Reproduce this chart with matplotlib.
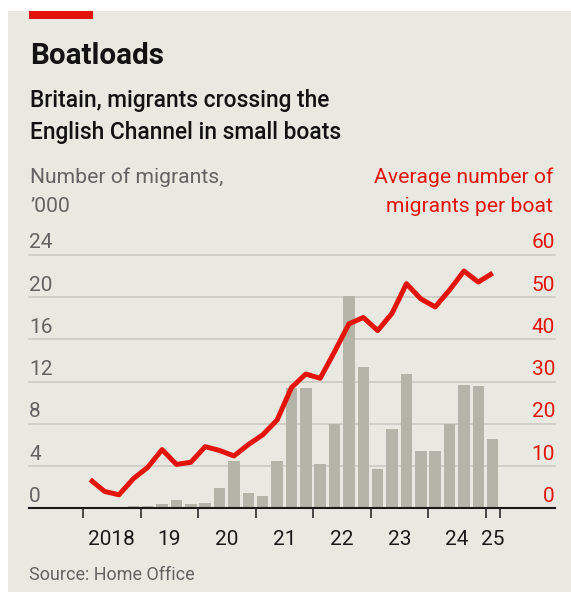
import matplotlib
matplotlib.use("Agg")
import matplotlib.pyplot as plt
from matplotlib.patches import Rectangle
from matplotlib.transforms import blended_transform_factory, offset_copy

plt.rcParams['font.family'] = ['Roboto', 'DejaVu Sans']

# DADOS (trimestres 2018 Q1 .. 2025 Q1)
trimestres = ['2018Q1', '2018Q2', '2018Q3', '2018Q4',
              '2019Q1', '2019Q2', '2019Q3', '2019Q4',
              '2020Q1', '2020Q2', '2020Q3', '2020Q4',
              '2021Q1', '2021Q2', '2021Q3', '2021Q4',
              '2022Q1', '2022Q2', '2022Q3', '2022Q4',
              '2023Q1', '2023Q2', '2023Q3', '2023Q4',
              '2024Q1', '2024Q2', '2024Q3', '2024Q4',
              '2025Q1']
migrantes = [0, 0, 0, 0.2,
             0.2, 0.38, 0.75, 0.45,
             0.5, 1.97, 4.45, 1.43,
             1.12, 4.48, 11.37, 11.37,
             4.17, 8.0, 20.1, 13.4,
             3.76, 7.49, 12.7, 5.4,
             5.4, 8.0, 11.7, 11.6,
             6.6]  # '000
por_barco = [6.8, 4.0, 3.2, 7.0,
             9.7, 13.9, 10.4, 10.9,
             14.6, 13.7, 12.4, 15.1,
             17.4, 20.9, 28.6, 31.8,
             30.8, 37.1, 43.7, 45.2,
             42.1, 46.2, 53.2, 49.6,
             47.7, 51.7, 56.2, 53.6,
             55.7]
anos = ['2018', '19', '20', '21', '22', '23', '24', '25']
ticks_esq = [0, 4, 8, 12, 16, 20, 24]
ticks_dir = [0, 10, 20, 30, 40, 50, 60]

# CORES
fundo = '#EAE9E1'
vermelho = '#E3120B'
cinza_barra = '#B4B4A8'
cinza_grade = '#C9C8C0'
cinza_texto = '#636363'

W, H = 571, 592
fig = plt.figure(figsize=(W / 100, H / 100), dpi=100)
fig.patch.set_facecolor('white')

def fx(px):
    return px / W

def fy(py):
    return 1 - py / H

# painel bege + faixa vermelha
fig.patches.append(Rectangle((fx(8), 0), 1 - fx(8), fy(11), transform=fig.transFigure,
                             facecolor=fundo, edgecolor='none', zorder=-2))
fig.patches.append(Rectangle((fx(29), fy(19)), fx(93) - fx(29), fy(11) - fy(19),
                             transform=fig.transFigure, facecolor=vermelho,
                             edgecolor='none', zorder=-1))

# TEXTOS DO CABEÇALHO
fig.text(fx(30), fy(64), 'Boatloads', fontsize=21.3, fontweight='bold', color='#121212')
fig.text(fx(30), fy(107.3), 'Britain, migrants crossing the', fontsize=16.4,
         fontweight='medium', color='#121212')
fig.text(fx(30), fy(139.3), 'English Channel in small boats', fontsize=16.4,
         fontweight='medium', color='#121212')
fig.text(fx(30), fy(183), 'Number of migrants,', fontsize=15.2, color=cinza_texto)
fig.text(fx(30), fy(212.5), '\u2019000', fontsize=15.2, color=cinza_texto)
fig.text(fx(553), fy(183), 'Average number of', fontsize=15.2, color=vermelho, ha='right')
fig.text(fx(553), fy(212.5), 'migrants per boat', fontsize=15.2, color=vermelho, ha='right')
fig.text(fx(29), fy(580), 'Source: Home Office', fontsize=13, color=cinza_texto)

# EIXOS
esq, dir_, topo, base = 29, 555, 255, 508.3
ax = fig.add_axes([fx(esq), fy(base), fx(dir_) - fx(esq), fy(topo) - fy(base)])
ax.set_facecolor('none')
x = list(range(len(trimestres)))
ppq = 14.375  # pixels por trimestre
ax.set_xlim((esq - 90.2) / ppq, (dir_ - 90.2) / ppq)
ax.set_ylim(0, 24)

for v in ticks_esq[1:]:
    ax.axhline(v, color=cinza_grade, lw=1.1, zorder=1, clip_on=False)

ax.bar(x, migrantes, width=0.8, color=cinza_barra, zorder=2)
ax.axhline(0, color='#1a1a1a', lw=1.5, zorder=4, clip_on=False)

for s in ax.spines.values():
    s.set_visible(False)
ax.set_yticks([])
marcas = [-0.5 + 4 * k for k in range(8)] + [28.5]
ax.set_xticks(marcas)
ax.set_xticklabels([])
ax.tick_params(axis='x', length=7.2, width=1.1, color='#1a1a1a', direction='out')

ax2 = ax.twinx()
ax2.set_ylim(0, 60)
ax2.set_xlim(ax.get_xlim())
ax2.plot(x, por_barco, color=vermelho, lw=3.6, zorder=5, solid_joinstyle='round',
         solid_capstyle='butt')
ax2.set_yticks([])
for s in ax2.spines.values():
    s.set_visible(False)

# RÓTULOS DOS EIXOS
tr_esq = offset_copy(blended_transform_factory(fig.transFigure, ax.transData),
                     fig=fig, y=6.5, units='dots')
tr_dir = offset_copy(blended_transform_factory(fig.transFigure, ax2.transData),
                     fig=fig, y=6.5, units='dots')
for v in ticks_esq:
    ax.text(fx(29), v, str(v), transform=tr_esq, fontsize=15, color=cinza_texto,
            ha='left', va='baseline')
for v in ticks_dir:
    ax2.text(fx(555), v, str(v), transform=tr_dir, fontsize=15, color=vermelho,
             ha='right', va='baseline')

tr_x = blended_transform_factory(ax.transData, fig.transFigure)
pos_anos = [1.5 + 4 * k for k in range(7)] + [28]
for p, a in zip(pos_anos, anos):
    ax.text(p, fy(545), a, transform=tr_x, fontsize=15, color='#1a1a1a',
            ha='center', va='baseline')

fig.savefig('out.png', dpi=100, facecolor=fig.get_facecolor())
